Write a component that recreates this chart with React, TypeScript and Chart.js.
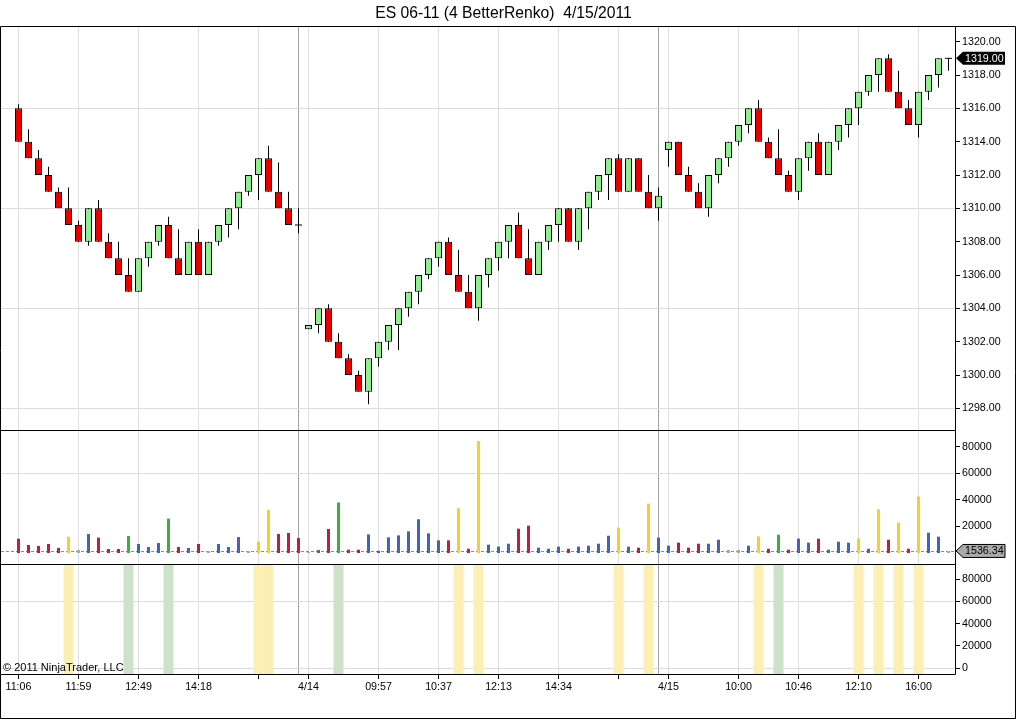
import React, { useEffect, useRef } from "react";
import { Chart, registerables } from "chart.js";

Chart.register(...registerables);

const TITLE = "ES 06-11 (4 BetterRenko)  4/15/2011";
const COPYRIGHT = "© 2011 NinjaTrader, LLC";
const FONT = '"Liberation Sans", Arial, sans-serif';

// ---- Renko bars (one entry per bar) ----
const opens = [
  1316, 1314, 1313, 1312, 1311, 1310, 1309, 1308, 1310, 1308,
  1307, 1306, 1305, 1307, 1308, 1309, 1307, 1306, 1308, 1306,
  1308, 1309, 1310, 1311, 1312, 1313, 1311, 1310, 1309, 1302.75,
  1303, 1304, 1302, 1301, 1300, 1299, 1301, 1302, 1303, 1304,
  1305, 1306, 1307, 1308, 1306, 1305, 1304, 1306, 1307, 1308,
  1309, 1307, 1306, 1308, 1309, 1310, 1308, 1310, 1311, 1312,
  1313, 1311, 1313, 1311, 1310, 1313.5, 1314, 1312, 1311, 1310,
  1312, 1313, 1314, 1315, 1316, 1314, 1313, 1312, 1311, 1313,
  1314, 1312, 1314, 1315, 1316, 1317, 1318, 1319, 1317, 1316,
  1315, 1317, 1318, 1319,
];
const closes = [
  1314, 1313, 1312, 1311, 1310, 1309, 1308, 1310, 1308, 1307,
  1306, 1305, 1307, 1308, 1309, 1307, 1306, 1308, 1306, 1308,
  1309, 1310, 1311, 1312, 1313, 1311, 1310, 1309, 1309, 1303,
  1304, 1302, 1301, 1300, 1299, 1301, 1302, 1303, 1304, 1305,
  1306, 1307, 1308, 1306, 1305, 1304, 1306, 1307, 1308, 1309,
  1307, 1306, 1308, 1309, 1310, 1308, 1310, 1311, 1312, 1313,
  1311, 1313, 1311, 1310, 1310.75, 1314, 1312, 1311, 1310, 1312,
  1313, 1314, 1315, 1316, 1314, 1313, 1312, 1311, 1313, 1314,
  1312, 1314, 1315, 1316, 1317, 1318, 1319, 1317, 1316, 1315,
  1317, 1318, 1319, 1319,
];
const highs = [
  1316.25, 1314.75, 1313.5, 1312.5, 1311.25, 1311.25, 1309.25, 1310, 1310.5, 1308.5,
  1308, 1307, 1307, 1308, 1309, 1309.5, 1308.75, 1308, 1308.75, 1308,
  1309, 1310, 1311, 1312, 1313, 1313.75, 1312.75, 1311, 1310, 1303,
  1304, 1304.25, 1302.5, 1301.25, 1300.25, 1301, 1302, 1303, 1304, 1305,
  1306, 1307, 1308, 1308.25, 1307.5, 1306, 1306, 1307, 1308, 1309,
  1309.75, 1308.75, 1308, 1309, 1310, 1310, 1310, 1311, 1312, 1313,
  1313.25, 1313, 1313, 1312, 1311.25, 1314, 1314, 1312.5, 1311.5, 1312,
  1313, 1314, 1315, 1316, 1316.5, 1314.25, 1314.75, 1312.25, 1313, 1314,
  1314.5, 1314, 1315, 1316, 1317, 1318, 1319, 1319.25, 1318.25, 1316.5,
  1317, 1318, 1319, 1319,
];
const lows = [
  1314, 1313, 1312, 1311, 1310, 1309, 1308, 1307.75, 1308, 1307,
  1306, 1305, 1305, 1306.5, 1307.75, 1307, 1306, 1306, 1306, 1306,
  1307.75, 1308.25, 1308.75, 1310.75, 1310.5, 1311, 1310, 1309, 1308.5, 1302.75,
  1302.5, 1302, 1301, 1300, 1299, 1298.25, 1300.5, 1301.5, 1301.5, 1303.5,
  1304.25, 1305.75, 1306.5, 1306, 1305, 1304, 1303.25, 1305.25, 1306.25, 1307,
  1307, 1306, 1306, 1307.5, 1308, 1308, 1307.5, 1308.75, 1310.5, 1310.5,
  1311, 1311, 1311, 1310, 1309.25, 1312.5, 1312, 1311, 1310, 1309.5,
  1311.5, 1312.5, 1313.75, 1314.5, 1314, 1313, 1312, 1311, 1310.5, 1312.25,
  1312, 1312, 1313.5, 1314.25, 1315, 1316.75, 1317, 1317, 1316, 1315,
  1314.25, 1316.5, 1317.25, 1318.25,
];

// ---- Volume per bar and its colour class ----
const volumes = [
  10800, 6000, 5300, 6800, 3800, 12300, 2300, 14300, 11600, 3000,
  3000, 12800, 6800, 4500, 7500, 25900, 4500, 3800, 6800, 1500,
  6800, 4500, 12000, 1500, 8500, 32500, 14300, 15100, 11300, 800,
  2300, 18100, 38000, 2500, 2500, 14000, 1700, 11800, 13300, 16300,
  25400, 14800, 9500, 9500, 33700, 3200, 84300, 6300, 4800, 7000,
  18300, 20600, 4000, 3200, 4800, 3200, 4800, 5500, 7000, 13000,
  19100, 4800, 4000, 37200, 11600, 5500, 7800, 4000, 7000, 7000,
  10000, 2300, 2300, 5500, 12500, 3200, 13800, 2500, 10800, 7800,
  10800, 2500, 8500, 7800, 11000, 3200, 32900, 10000, 22900, 3200,
  42500, 15300, 12300, 1500,
];
const volumeClass = [
  "r", "r", "r", "r", "r", "y", "n", "b", "r", "r",
  "r", "g", "b", "b", "b", "g", "r", "b", "r", "n",
  "b", "b", "b", "n", "y", "y", "r", "r", "r", "n",
  "b", "r", "g", "r", "r", "b", "b", "b", "b", "b",
  "b", "b", "b", "r", "y", "r", "y", "b", "b", "b",
  "r", "r", "b", "b", "b", "r", "b", "b", "b", "b",
  "y", "b", "r", "y", "b", "b", "r", "r", "r", "b",
  "b", "n", "n", "b", "y", "r", "g", "r", "b", "b",
  "r", "b", "b", "b", "y", "b", "y", "r", "y", "r",
  "y", "b", "b", "n",
];
const volumeMarker = 1536.34;

// ---- Axis ticks ----
const xTickIndex = [0, 6, 12, 18, 24, 29, 36, 42, 48, 54, 60, 65, 72, 78, 84, 90];
const xTickText = ["11:06", "11:59", "12:49", "14:18", "", "4/14", "09:57", "10:37", "12:13", "14:34", "", "4/15", "10:00", "10:46", "12:10", "16:00"];
const sessionBreakIndex = [28, 64];
const priceTicks = [1298, 1300, 1302, 1304, 1306, 1308, 1310, 1312, 1314, 1316, 1318, 1320];
const priceGrid = [1298, 1304, 1310, 1316];
const volumeTicks = [20000, 40000, 60000, 80000];
const volumeGrid = [60000];
const signalTicks = [0, 20000, 40000, 60000, 80000];
const signalGrid = [0, 60000];

// ---- Axis ranges ----
const X_MIN = -1.75;
const X_MAX = 93.65;
const PRICE_MIN = 1296.7;
const PRICE_MAX = 1320.94;
const VOL_MIN = -8280;
const VOL_MAX = 92570;
const SIG_MIN = -5100;
const SIG_MAX = 93440;

const UP = "#90ee90";
const DOWN = "#e80000";
const VOL_COLORS: Record<string, string> = {
  r: "#bd1f40",
  b: "#4364b6",
  y: "#f2d22a",
  g: "#3cae3c",
  n: "#a8a8a8",
};
const SIG_COLORS: Record<string, string> = { y: "#fbefb4", g: "#cde3c9" };

function drawTag(ctx: any, xTip: number, y: number, text: string, fill: string, textColor: string, stroke?: string) {
  const h = 13;
  const arrow = 7;
  const w = 49;
  ctx.save();
  ctx.beginPath();
  ctx.moveTo(xTip, y);
  ctx.lineTo(xTip + arrow, y - h / 2);
  ctx.lineTo(xTip + w, y - h / 2);
  ctx.lineTo(xTip + w, y + h / 2);
  ctx.lineTo(xTip + arrow, y + h / 2);
  ctx.closePath();
  ctx.fillStyle = fill;
  ctx.fill();
  if (stroke) {
    ctx.lineWidth = 1;
    ctx.strokeStyle = stroke;
    ctx.stroke();
  }
  ctx.fillStyle = textColor;
  ctx.font = `10.7px ${FONT}`;
  ctx.textAlign = "left";
  ctx.textBaseline = "middle";
  ctx.fillText(text, xTip + 9, y + 0.5);
  ctx.restore();
}

const framePlugin = {
  id: "ntFrame",
  beforeDatasetsDraw(chart: any) {
    const { ctx, chartArea, scales } = chart;
    const y = Math.round(scales.y2.getPixelForValue(volumeMarker)) + 0.5;
    ctx.save();
    ctx.strokeStyle = "#8a8a8a";
    ctx.lineWidth = 1;
    ctx.setLineDash([3, 2]);
    ctx.beginPath();
    ctx.moveTo(chartArea.left, y);
    ctx.lineTo(chartArea.right, y);
    ctx.stroke();
    ctx.restore();
  },
  afterDraw(chart: any) {
    const { ctx, chartArea, scales, width, height } = chart;
    const L = Math.round(chartArea.left) - 0.5;
    const T = Math.round(chartArea.top) + 0.5;
    const R = Math.round(chartArea.right) + 0.5;
    const B = Math.round(chartArea.bottom) + 0.5;
    ctx.save();
    ctx.strokeStyle = "#000";
    ctx.lineWidth = 1;
    ctx.beginPath();
    ctx.rect(L, T, R - L, B - T);
    [scales.y2.top, scales.y3.top].forEach((t: number) => {
      const yy = Math.round(t) + 0.5;
      ctx.moveTo(L, yy);
      ctx.lineTo(R, yy);
    });
    ctx.moveTo(R, T);
    ctx.lineTo(width - 0.5, T);
    ctx.lineTo(width - 0.5, height - 1.5);
    ctx.lineTo(L, height - 1.5);
    ctx.lineTo(L, B);
    ctx.stroke();

    ctx.fillStyle = "#000";
    ctx.font = `11px ${FONT}`;
    ctx.textAlign = "left";
    ctx.textBaseline = "alphabetic";
    ctx.fillText(COPYRIGHT, chartArea.left + 2, chartArea.bottom - 3.5);
    ctx.restore();

    const lastClose = closes[closes.length - 1];
    drawTag(ctx, chartArea.right + 1, scales.y.getPixelForValue(lastClose), lastClose.toFixed(2), "#000", "#fff");
    drawTag(ctx, chartArea.right + 1, scales.y2.getPixelForValue(volumeMarker), volumeMarker.toFixed(2), "#a9a9a9", "#000", "#000");
  },
};

const idx = opens.map((_, i) => i);
const signalIdx = idx.filter((i) => volumeClass[i] === "y" || volumeClass[i] === "g");
const dojiIdx = idx.filter((i) => opens[i] === closes[i]);

function yAxis(stackWeight: number, weight: number, min: number, max: number, ticks: number[], grid: number[], fmt: (v: number) => string) {
  return {
    type: "linear",
    position: "right",
    stack: "panels",
    stackWeight,
    weight,
    min,
    max,
    afterBuildTicks: (axis: any) => {
      axis.ticks = ticks.map((v) => ({ value: v }));
    },
    afterFit: (axis: any) => {
      axis.width = 51;
      axis.paddingTop = 0;
      axis.paddingBottom = 0;
    },
    ticks: {
      autoSkip: false,
      padding: 2,
      color: "#000",
      font: { size: 10.7, family: FONT },
      callback: (v: any) => fmt(Number(v)),
    },
    grid: {
      color: (c: any) => (c.tick && grid.includes(c.tick.value) ? "#dcdcdc" : "rgba(0,0,0,0)"),
      tickColor: "#000",
      tickLength: 5,
      lineWidth: 1,
    },
    border: { display: false },
  };
}

export default function App() {
  const ref = useRef<HTMLCanvasElement>(null);

  useEffect(() => {
    if (!ref.current) return;
    const config: any = {
      type: "bar",
      data: {
        datasets: [
          {
            type: "bar",
            label: "signal",
            yAxisID: "y3",
            data: signalIdx.map((i) => ({ x: i, y: [SIG_MIN, SIG_MAX] })),
            backgroundColor: signalIdx.map((i) => SIG_COLORS[volumeClass[i]]),
            borderWidth: 0,
            barThickness: 10,
            maxBarThickness: 10,
            grouped: false,
            inflateAmount: 0,
            order: 5,
          },
          {
            type: "bar",
            label: "wick",
            yAxisID: "y",
            data: idx.map((i) => ({ x: i, y: [lows[i], highs[i]] })),
            backgroundColor: "#000",
            borderWidth: 0,
            barThickness: 1,
            maxBarThickness: 1,
            grouped: false,
            inflateAmount: 0,
            order: 4,
          },
          {
            type: "bar",
            label: "body",
            yAxisID: "y",
            data: idx.map((i) => ({ x: i, y: [opens[i], closes[i]] })),
            backgroundColor: idx.map((i) => (closes[i] >= opens[i] ? UP : DOWN)),
            borderColor: "#000",
            borderWidth: 1,
            borderSkipped: false,
            barThickness: 7,
            maxBarThickness: 7,
            grouped: false,
            inflateAmount: 0,
            order: 3,
          },
          {
            type: "line",
            label: "doji",
            yAxisID: "y",
            data: dojiIdx.map((i) => ({ x: i, y: opens[i] })),
            showLine: false,
            pointStyle: "line",
            pointRadius: 3.5,
            pointHoverRadius: 3.5,
            pointBorderColor: "#000",
            pointBorderWidth: 1,
            order: 1,
          },
          {
            type: "bar",
            label: "volume",
            yAxisID: "y2",
            data: idx.map((i) => ({ x: i, y: volumes[i] })),
            backgroundColor: idx.map((i) => VOL_COLORS[volumeClass[i]]),
            borderWidth: 0,
            barThickness: 3,
            maxBarThickness: 3,
            grouped: false,
            inflateAmount: 0,
            order: 2,
          },
        ],
      },
      options: {
        responsive: false,
        animation: false,
        events: [],
        layout: { autoPadding: false, padding: { left: 1, right: 10, top: 0, bottom: 0 } },
        plugins: {
          legend: { display: false },
          tooltip: { enabled: false },
          title: {
            display: true,
            text: TITLE,
            color: "#000",
            font: { size: 15.7, weight: "normal", family: FONT, lineHeight: "18px" },
            padding: { top: 5, bottom: 3 },
          },
        },
        scales: {
          x: {
            type: "linear",
            min: X_MIN,
            max: X_MAX,
            offset: false,
            afterBuildTicks: (axis: any) => {
              axis.ticks = [...xTickIndex, ...sessionBreakIndex].sort((a, b) => a - b).map((v) => ({ value: v }));
            },
            afterFit: (axis: any) => {
              axis.height = 46;
              axis.paddingLeft = 0;
              axis.paddingRight = 0;
            },
            ticks: {
              autoSkip: false,
              maxRotation: 0,
              minRotation: 0,
              padding: 2,
              color: "#000",
              font: { size: 10.7, family: FONT },
              callback: (v: any) => {
                const k = xTickIndex.indexOf(Number(v));
                return k >= 0 ? xTickText[k] : "";
              },
            },
            grid: {
              offset: false,
              color: (c: any) => (c.tick && sessionBreakIndex.includes(c.tick.value) ? "#a4a4a4" : "#dedede"),
              tickColor: (c: any) => (c.tick && sessionBreakIndex.includes(c.tick.value) ? "rgba(0,0,0,0)" : "#000"),
              tickLength: 5,
              lineWidth: 1,
            },
            border: { display: false },
          },
          y: yAxis(404, 0, PRICE_MIN, PRICE_MAX, priceTicks, priceGrid, (v) => v.toFixed(2)),
          y2: yAxis(134, 1, VOL_MIN, VOL_MAX, volumeTicks, volumeGrid, (v) => String(v)),
          y3: yAxis(110, 2, SIG_MIN, SIG_MAX, signalTicks, signalGrid, (v) => String(v)),
        },
      },
      plugins: [framePlugin],
    };
    const chart = new Chart(ref.current, config);
    return () => chart.destroy();
  }, []);

  return (
    <div style={{ position: "absolute", left: 0, top: 0, width: 1016, height: 720, background: "#fff" }}>
      <canvas ref={ref} width={1016} height={720} style={{ display: "block" }} />
    </div>
  );
}
